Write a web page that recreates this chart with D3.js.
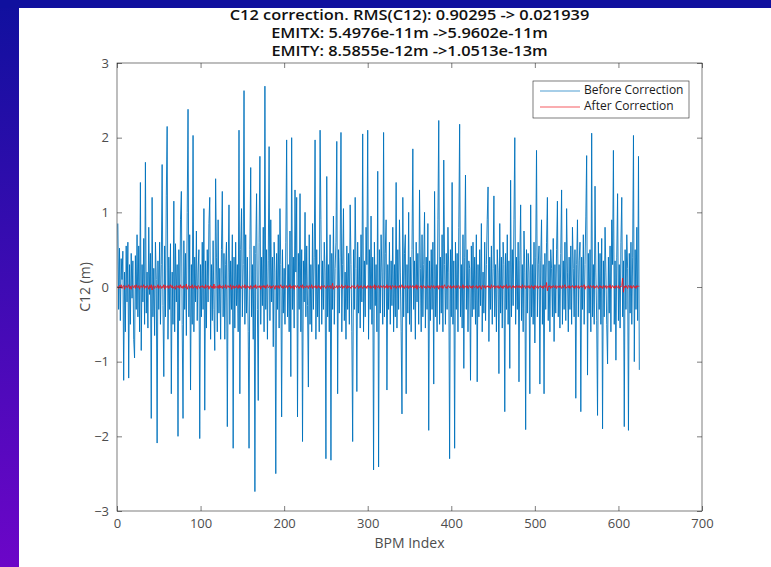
<!DOCTYPE html>
<html>
<head>
<meta charset="utf-8">
<script src="https://cdn.jsdelivr.net/npm/d3@7"></script>
<style>
  html, body { margin: 0; padding: 0; }
  body { width: 771px; height: 567px; overflow: hidden; }
  text { font-family: "Open Sans", "DejaVu Sans", sans-serif; }
</style>
</head>
<body>
<svg id="chart" width="771" height="567"></svg>
<script>
// -- DATA --
const titleLines = [
  "C12 correction. RMS(C12): 0.90295 -> 0.021939",
  "EMITX: 5.4976e-11m ->5.9602e-11m",
  "EMITY: 8.5855e-12m ->1.0513e-13m"
];
const xTicks = [0, 100, 200, 300, 400, 500, 600, 700];
const yTicks = [-3, -2, -1, 0, 1, 2, 3];
const seriesNames = ["Before Correction", "After Correction"];

// C12 before correction (m), BPM index 1..625
const before = [
  0.85,-0.3,0.52,-0.45,0.38,0.1,0.48,-1.25,0.2,-0.6,0.55,-0.2,0.6,-1.22,0.3,-0.5,0.45,-0.15,0.35,-0.7,-0.95,0.42,-0.3,0.7,-0.4,
  0.55,-0.6,1.4,-0.85,0.3,-0.2,0.65,-0.5,1.67,-0.35,0.2,-0.55,0.8,-0.1,0.45,-1.76,1.2,-0.4,0.25,-0.65,0.6,0.1,-2.09,0.35,-0.3,
  0.6,-0.5,0.3,1.64,-0.25,-1.2,0.55,-0.4,1.22,2.15,-0.7,0.4,-0.3,0.58,-1.43,0.2,-0.5,1.15,-0.6,0.58,-0.2,0.3,-2.0,0.5,-0.45,
  0.9,1.28,-0.5,-1.76,0.62,-0.3,0.45,-0.65,1.0,2.38,-0.4,0.7,-1.38,0.3,-0.5,2.03,-0.6,0.4,-0.2,0.75,-0.45,0.2,0.5,-2.03,0.3,
  -0.4,0.6,-0.3,1.05,-1.65,0.35,-0.55,0.5,-0.2,0.85,1.2,-0.7,0.3,-0.45,0.62,-0.3,-0.85,1.45,0.4,-0.6,0.9,-0.35,0.25,-0.7,0.5,
  1.28,-0.4,0.45,-0.7,0.3,0.6,-1.87,0.2,1.1,-0.5,0.35,-0.3,0.7,-2.16,0.4,-0.55,0.6,-0.25,0.3,-0.6,2.1,-1.43,0.5,1.05,-0.4,
  0.3,2.63,-0.5,0.7,-0.35,0.4,-0.6,-2.16,0.5,1.6,-0.4,0.3,-0.7,0.55,-2.74,0.45,1.25,-0.3,-1.52,0.6,1.75,-0.5,0.4,-0.25,0.8,
  -0.6,2.69,-0.3,0.5,-0.7,0.35,1.88,-0.45,0.9,-0.2,0.4,-0.8,0.6,0.2,-2.5,0.45,-0.3,0.7,-0.55,1.05,0.3,-1.74,0.5,-0.35,0.25,
  -0.5,0.6,1.97,-0.4,0.3,-0.6,0.75,-1.2,2.0,-0.3,0.4,-0.55,1.3,0.2,1.2,-1.74,0.45,-0.3,1.25,-0.6,0.5,-2.07,0.35,-0.2,1.0,
  -0.4,0.55,-0.25,-1.34,0.7,-0.5,0.3,-0.6,0.85,-0.3,0.4,1.97,-0.7,0.5,-0.4,0.3,-0.6,2.1,0.9,-0.5,0.35,-0.3,0.6,0.2,-2.3,
  1.48,-0.4,0.3,-0.6,0.7,-2.32,0.45,-0.3,0.95,-0.5,0.25,0.6,1.95,-1.43,0.5,-0.35,0.4,2.07,-0.6,0.3,1.05,-0.45,0.2,-0.7,0.55,
  -0.3,0.45,-0.5,1.1,0.3,-0.6,-2.07,0.5,-0.3,1.2,0.25,-1.4,0.6,-0.35,0.4,-0.55,0.7,-0.2,2.05,-0.6,0.35,-0.4,0.8,0.3,2.1,
  -0.7,0.5,-0.3,0.95,-0.5,0.4,-2.45,0.6,-0.25,0.3,-0.6,1.55,-2.41,0.5,-0.35,0.7,0.2,-0.5,2.07,-0.4,0.45,0.9,-1.38,0.3,-0.3,
  0.6,-0.5,0.35,-0.25,0.8,-0.6,0.3,-0.4,1.4,-0.55,0.5,-0.3,0.9,0.2,-0.6,-1.7,1.2,-0.4,0.45,0.7,-1.43,0.3,-0.35,1.0,-0.5,
  0.4,-0.6,0.5,1.85,-0.3,0.35,-0.7,0.6,-0.2,0.45,-0.5,1.3,0.25,-0.6,0.7,-0.4,0.3,1.0,-0.55,0.4,-0.3,0.85,-1.92,0.35,-0.45,
  0.5,-0.3,0.6,-1.3,1.28,-0.4,0.3,-0.6,0.9,2.23,-0.5,0.4,-0.35,0.7,-0.6,1.7,0.3,-0.5,0.45,-0.3,0.8,0.2,-2.3,0.5,-0.4,
  1.4,-0.5,0.35,-2.16,0.6,-0.3,0.45,-0.6,0.8,2.18,-0.4,0.3,-0.55,0.7,-1.09,0.4,1.5,-0.3,0.5,-0.6,0.35,0.25,-1.25,0.55,-0.4,
  0.6,-0.3,0.4,-0.5,0.7,-1.27,0.3,-0.4,0.5,-0.25,0.85,-0.6,0.2,-0.35,0.6,-0.45,0.3,0.9,1.34,-0.73,0.4,-0.3,0.55,-0.5,0.25,
  1.22,-0.4,0.3,-0.6,0.5,0.2,-1.16,0.85,-0.35,0.4,-0.55,0.6,0.3,-1.67,0.45,-0.3,0.7,-0.5,0.35,-1.09,1.43,-0.4,0.5,-0.25,0.9,
  2.0,-0.5,0.4,-0.3,0.6,-1.27,0.35,1.1,-0.45,0.3,-0.6,0.75,0.2,-1.91,0.5,-0.35,0.45,0.2,-1.43,1.1,-0.4,0.3,-0.5,0.6,-0.75,
  0.4,1.83,-0.4,0.3,0.55,-1.3,0.35,0.9,-0.5,0.3,-1.43,0.45,-0.3,0.6,1.2,-0.45,0.35,-0.6,0.5,0.25,-0.4,0.65,-0.73,0.3,-0.35,
  0.5,1.15,-0.4,0.3,-0.55,0.45,1.3,-0.5,0.35,-0.3,0.6,-0.45,1.05,0.2,-0.6,0.4,-0.3,0.55,-0.5,0.8,0.25,-0.4,0.5,-1.49,0.3,
  0.9,-0.4,0.35,0.6,-1.67,0.4,-0.3,0.7,-0.5,0.3,0.95,1.76,-1.18,0.45,-0.35,0.5,-0.6,2.06,-0.4,0.3,-0.5,1.35,0.2,-0.45,-1.72,
  0.6,-0.3,0.45,-0.5,0.65,-1.9,0.35,-0.4,0.8,0.2,-0.5,-1.03,0.4,-0.35,0.55,-0.6,0.9,0.3,1.83,-0.5,0.35,-0.98,0.4,1.25,-0.45,
  0.3,-0.55,0.6,1.2,-0.4,0.35,-1.87,0.5,-0.3,0.7,0.25,-1.92,0.45,-0.35,0.6,-0.5,0.4,2.03,-1.0,0.5,-0.3,0.8,-0.45,1.75,-1.11
];

// C12 after correction (m)
const after = [
  0.01,-0.02,0.02,-0.01,0.03,-0.02,0.01,0.02,-0.03,0.01,0.02,-0.01,0.0,0.03,-0.02,0.01,-0.03,0.02,0.01,-0.01,0.02,-0.02,0.03,0.0,-0.01,
  0.02,-0.03,0.01,0.02,-0.01,0.0,0.03,-0.02,0.01,-0.01,0.02,0.01,-0.03,0.02,-0.01,0.03,-0.04,0.01,0.02,-0.02,0.01,0.0,-0.01,0.03,-0.02,
  0.01,0.02,-0.02,0.01,-0.01,0.03,-0.03,0.02,0.0,-0.01,0.02,-0.02,0.01,0.03,-0.01,0.02,-0.02,0.0,0.01,-0.03,0.02,0.01,-0.01,0.02,-0.02,
  0.03,-0.01,0.01,-0.02,0.02,0.0,-0.01,0.04,-0.03,0.01,0.02,-0.02,0.01,-0.01,0.03,-0.02,0.0,0.02,-0.01,0.01,-0.03,0.02,0.01,-0.02,0.01,
  0.0,0.02,-0.01,0.01,-0.02,0.03,-0.01,0.0,0.02,-0.03,0.01,0.02,-0.01,0.01,-0.02,0.04,-0.02,0.01,0.0,-0.01,0.02,-0.02,0.03,-0.01,0.01,
  -0.02,0.02,0.0,-0.01,0.03,-0.02,0.01,0.02,-0.01,0.0,0.03,-0.03,0.01,0.02,-0.02,0.01,-0.01,0.02,0.0,-0.02,0.03,-0.01,0.01,-0.02,0.02,
  0.01,-0.01,0.03,-0.02,0.0,0.02,-0.01,0.01,-0.03,0.02,0.01,-0.02,0.0,0.02,-0.01,0.03,-0.02,0.01,0.01,-0.01,0.02,-0.03,0.01,0.0,0.02,
  -0.01,0.02,-0.02,0.01,0.03,-0.01,0.0,0.02,-0.02,0.01,-0.01,0.02,0.01,-0.03,0.02,0.0,-0.01,0.02,-0.02,0.01,0.03,-0.01,0.01,-0.02,0.02,
  0.0,-0.01,0.02,-0.02,0.01,0.0,0.03,-0.02,0.01,-0.01,0.02,-0.03,0.02,0.01,-0.01,0.02,0.0,-0.02,0.01,0.02,-0.01,0.03,-0.02,0.01,0.0,
  -0.01,0.02,0.01,-0.02,0.02,0.0,-0.01,0.03,-0.02,0.01,0.01,-0.01,0.02,-0.02,0.0,0.02,-0.01,0.01,-0.03,0.02,0.01,-0.01,0.02,0.0,-0.02,
  0.01,0.02,-0.01,0.0,0.02,-0.02,0.01,0.05,-0.03,0.01,0.0,-0.01,0.02,-0.02,0.01,0.02,-0.01,0.0,0.03,-0.02,0.01,-0.01,0.02,0.01,-0.02,
  0.02,-0.01,0.01,0.0,-0.02,0.02,0.01,-0.01,0.02,-0.02,0.0,0.01,0.03,-0.02,0.01,-0.01,0.02,0.0,-0.02,0.01,0.02,-0.01,0.01,-0.02,0.02,
  0.0,-0.01,0.02,-0.02,0.01,0.01,-0.01,0.03,-0.03,0.02,0.0,-0.01,0.02,-0.02,0.01,0.02,-0.01,0.0,0.02,-0.02,0.01,-0.01,0.03,-0.02,0.01,
  0.0,0.02,-0.03,0.01,0.02,-0.01,0.0,0.02,-0.02,0.01,0.01,-0.01,0.02,-0.02,0.0,0.03,-0.01,0.01,-0.02,0.02,0.0,-0.01,0.02,-0.02,0.01,
  0.02,-0.01,0.0,0.02,-0.02,0.01,-0.01,0.03,-0.03,0.02,0.01,-0.01,0.0,0.02,-0.02,0.01,0.02,-0.01,0.01,-0.02,0.0,0.02,-0.01,0.01,-0.02,
  0.02,0.0,-0.01,0.02,-0.02,0.01,0.01,-0.01,0.02,-0.03,0.02,0.0,-0.01,0.02,-0.02,0.01,0.03,-0.01,0.0,-0.02,0.02,0.01,-0.01,0.02,-0.02,
  0.01,-0.01,0.02,0.0,-0.02,0.02,-0.01,0.01,0.02,-0.02,0.01,0.0,-0.01,0.03,-0.02,0.01,0.01,-0.01,0.02,-0.02,0.0,0.02,-0.01,0.01,-0.02,
  0.02,0.0,-0.01,0.01,0.02,-0.02,0.01,-0.01,0.02,0.0,-0.03,0.02,0.01,-0.01,0.02,-0.02,0.01,0.0,0.02,-0.01,0.01,-0.02,0.03,-0.01,0.0,
  0.02,-0.02,0.01,0.01,-0.01,0.02,-0.02,0.0,0.02,-0.01,0.01,-0.02,0.02,0.0,-0.01,0.03,-0.02,0.01,-0.01,0.02,0.01,-0.02,0.0,0.02,-0.01,
  0.01,-0.02,0.02,0.0,-0.01,0.02,-0.01,0.01,-0.02,0.03,-0.01,0.0,0.02,-0.02,0.01,0.01,-0.01,0.02,-0.02,0.0,0.02,-0.01,0.01,-0.03,0.02,
  0.0,-0.01,0.02,-0.02,0.01,0.0,0.02,-0.01,0.01,-0.02,0.02,0.01,-0.01,0.06,-0.05,0.01,0.0,0.02,-0.02,0.01,-0.01,0.02,0.0,-0.01,0.02,
  -0.02,0.01,0.01,-0.01,0.02,0.0,-0.02,0.02,-0.01,0.01,0.03,-0.02,0.0,0.01,-0.01,0.02,-0.02,0.01,0.0,0.02,-0.01,0.01,-0.02,0.02,0.0,
  -0.01,0.02,-0.02,0.01,0.0,0.02,-0.01,0.01,0.03,-0.03,0.01,0.0,-0.01,0.02,-0.02,0.01,0.02,-0.01,0.0,0.02,-0.02,0.01,-0.01,0.02,0.01,
  -0.02,0.0,0.02,-0.01,0.01,-0.02,0.02,0.0,-0.01,0.02,-0.02,0.01,0.01,-0.01,0.03,-0.02,0.0,0.02,-0.01,0.01,-0.02,0.02,0.0,-0.01,0.02,
  -0.02,0.01,0.0,0.02,0.12,-0.07,0.01,-0.01,0.02,0.0,-0.02,0.02,0.01,-0.01,0.02,-0.02,0.0,0.02,-0.01,0.01,-0.02,0.02,0.0,0.01,0.01
];

// -- LAYOUT --
const W = 771, H = 567;
const plot = { left: 117, right: 702, top: 63, bottom: 511 };
const axisColor = "#262626";
const tickTextColor = "#4d4d4d";

const svg = d3.select("#chart");

// slide background
const defs = svg.append("defs");
const grad = defs.append("linearGradient")
  .attr("id", "slideGrad")
  .attr("x1", 0).attr("y1", 0).attr("x2", 0).attr("y2", 1);
grad.append("stop").attr("offset", "0%").attr("stop-color", "#10109e");
grad.append("stop").attr("offset", "100%").attr("stop-color", "#6c06c8");
svg.append("rect").attr("width", W).attr("height", H).attr("fill", "url(#slideGrad)");
svg.append("rect").attr("x", 0).attr("y", 0).attr("width", W).attr("height", 8).attr("fill", "#10109e");
svg.append("rect").attr("x", 19).attr("y", 8).attr("width", W - 19).attr("height", H - 8).attr("fill", "#ffffff");

// Scales
const x = d3.scaleLinear().domain([0, 700]).range([plot.left, plot.right]);
const y = d3.scaleLinear().domain([-3, 3]).range([plot.bottom, plot.top]);

// data -> points (BPM index starts at 1)
const beforePts = before.map((v, i) => [i + 1, v]);
const afterPts = after.map((v, i) => [i + 1, v]);

const clip = defs.append("clipPath").attr("id", "plotClip");
clip.append("rect")
  .attr("x", plot.left).attr("y", plot.top)
  .attr("width", plot.right - plot.left).attr("height", plot.bottom - plot.top);

const line = d3.line().x((d) => x(d[0])).y((d) => y(d[1]));

const lines = svg.append("g").attr("clip-path", "url(#plotClip)");
lines.append("path")
  .datum(beforePts)
  .attr("d", line)
  .attr("fill", "none")
  .attr("stroke", "#0072bd")
  .attr("stroke-width", 1)
  .attr("stroke-opacity", 0.9);
lines.append("path")
  .datum(afterPts)
  .attr("d", line)
  .attr("fill", "none")
  .attr("stroke", "#f0141e")
  .attr("stroke-width", 0.9);

// box axes (MATLAB style, ticks inward)
const axes = svg.append("g");
axes.append("rect")
  .attr("x", plot.left).attr("y", plot.top)
  .attr("width", plot.right - plot.left).attr("height", plot.bottom - plot.top)
  .attr("fill", "none").attr("stroke", axisColor).attr("stroke-width", 0.6);

const tickLen = 5;
// apply X
const xb = axes.append("g")
  .attr("transform", `translate(0, ${plot.bottom})`)
  .call(d3.axisBottom(x).tickValues(xTicks).tickSizeInner(-tickLen).tickSizeOuter(0).tickPadding(8));
const xt = axes.append("g")
  .attr("transform", `translate(0, ${plot.top})`)
  .call(d3.axisTop(x).tickValues(xTicks).tickSizeInner(-tickLen).tickSizeOuter(0).tickFormat(""));
// apply Y
const yl = axes.append("g")
  .attr("transform", `translate(${plot.left}, 0)`)
  .call(d3.axisLeft(y).tickValues(yTicks).tickSizeInner(-tickLen).tickSizeOuter(0).tickPadding(8)
    .tickFormat((d) => (d < 0 ? "\u2212" + Math.abs(d) : d)));
const yr = axes.append("g")
  .attr("transform", `translate(${plot.right}, 0)`)
  .call(d3.axisRight(y).tickValues(yTicks).tickSizeInner(-tickLen).tickSizeOuter(0).tickFormat(""));

[xb, xt, yl, yr].forEach((g) => {
  g.select(".domain").remove();
  g.selectAll(".tick line").attr("stroke", axisColor).attr("stroke-width", 0.6);
  g.selectAll(".tick text")
    .attr("fill", tickTextColor)
    .style("font-family", "'Open Sans', sans-serif")
    .style("font-size", "13px");
});

// axis labels
svg.append("text")
  .attr("x", (plot.left + plot.right) / 2)
  .attr("y", 548)
  .attr("text-anchor", "middle")
  .attr("fill", tickTextColor)
  .style("font-size", "14px")
  .text("BPM Index");
svg.append("text")
  .attr("transform", `translate(90, ${(plot.top + plot.bottom) / 2}) rotate(-90)`)
  .attr("text-anchor", "middle")
  .attr("fill", tickTextColor)
  .style("font-size", "14px")
  .text("C12 (m)");

// title -- narrow-looking font: shrink the height, stretch to the original width
const titleCx = (plot.left + plot.right) / 2;
const titleTexts = svg.append("g")
  .selectAll("text")
  .data(titleLines)
  .enter()
  .append("text")
  .attr("x", 0)
  .attr("y", 0)
  .attr("text-anchor", "middle")
  .attr("fill", "#111111")
  .style("font-size", "14px")
  .style("font-weight", "600")
  .text((d) => d);
const firstLen = titleTexts.node().getComputedTextLength();
const stretch = 360 / firstLen;
titleTexts.attr("transform", (d, i) => `translate(${titleCx}, ${20 + i * 18}) scale(${stretch}, 1)`);

// legend
const legend = svg.append("g");
legend.append("rect")
  .attr("x", 533).attr("y", 81).attr("width", 156).attr("height", 37)
  .attr("fill", "#ffffff").attr("stroke", "#262626").attr("stroke-width", 0.6);
const legColors = ["#0072bd", "#f0141e"];
seriesNames.forEach((name, i) => {
  const ly = 91 + i * 16;
  legend.append("line")
    .attr("x1", 540).attr("x2", 580).attr("y1", ly).attr("y2", ly)
    .attr("stroke", legColors[i]).attr("stroke-width", 0.7);
  legend.append("text")
    .attr("x", 584).attr("y", ly)
    .attr("dominant-baseline", "middle")
    .attr("fill", "#1a1a1a")
    .style("font-size", "12px")
    .text(name);
});
</script>
</body>
</html>
